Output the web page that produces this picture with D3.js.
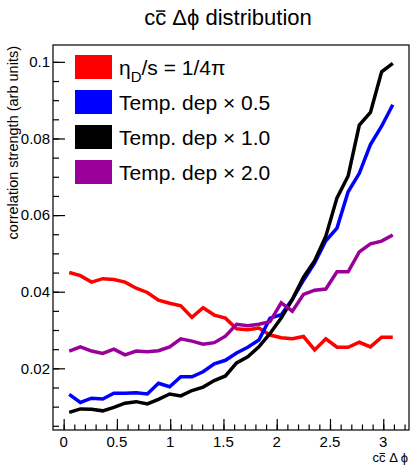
<!DOCTYPE html>
<html>
<head>
<meta charset="utf-8">
<script src="https://cdn.jsdelivr.net/npm/d3@7/dist/d3.min.js"></script>
<style>
  html, body { margin: 0; padding: 0; background: #fff; }
  svg text { font-family: "Liberation Sans", Arial, Helvetica, sans-serif; fill: #000; }
</style>
</head>
<body>
<svg id="chart" width="410" height="466"></svg>
<script>
// Bin centres: 30 bins over [0, pi]
const nBins = 30;
const binCentres = d3.range(nBins).map(i => (i + 0.5) * Math.PI / nBins);

// Correlation strength per bin for each drag-coefficient setting
const constEta = [0.0450, 0.0442, 0.0425, 0.0434, 0.0432, 0.0425, 0.0409, 0.0398, 0.0378, 0.0370,
                  0.0363, 0.0333, 0.0358, 0.0339, 0.0331, 0.0303, 0.0301, 0.0305, 0.0287, 0.0280,
                  0.0277, 0.0283, 0.0248, 0.0277, 0.0255, 0.0255, 0.0268, 0.0256, 0.0281, 0.0281];
const tempDep05 = [0.0132, 0.0111, 0.0122, 0.0120, 0.0135, 0.0135, 0.0136, 0.0133, 0.0161, 0.0152,
                   0.0178, 0.0178, 0.0191, 0.0212, 0.0221, 0.0240, 0.0255, 0.0274, 0.0331, 0.0340,
                   0.0380, 0.0430, 0.0475, 0.0533, 0.0566, 0.0661, 0.0709, 0.0784, 0.0832, 0.0888];
const tempDep10 = [0.0085, 0.0094, 0.0093, 0.0089, 0.0098, 0.0109, 0.0113, 0.0107, 0.0119, 0.0133,
                   0.0128, 0.0142, 0.0151, 0.0168, 0.0180, 0.0214, 0.0230, 0.0256, 0.0291, 0.0331,
                   0.0380, 0.0438, 0.0481, 0.0545, 0.0645, 0.0702, 0.0835, 0.0868, 0.0974, 0.0996];
const tempDep20 = [0.0245, 0.0256, 0.0245, 0.0239, 0.0250, 0.0235, 0.0245, 0.0243, 0.0246, 0.0256,
                   0.0277, 0.0271, 0.0263, 0.0267, 0.0284, 0.0315, 0.0311, 0.0315, 0.0322, 0.0371,
                   0.0349, 0.0393, 0.0404, 0.0407, 0.0452, 0.0452, 0.0504, 0.0525, 0.0532, 0.0548];

const seriesColors = ["#ff0000", "#0000ff", "#000000", "#990099"];
const seriesValues = [constEta, tempDep05, tempDep10, tempDep20];

const xTickLabels = [0, 0.5, 1, 1.5, 2, 2.5, 3];
const yTickLabels = [0.02, 0.04, 0.06, 0.08, 0.1];

// Frame geometry
const frame = { left: 53, right: 409, top: 45, bottom: 430 };

const svg = d3.select("#chart");

const x = d3.scaleLinear().domain([-0.1, Math.PI + 0.1]).range([frame.left, frame.right]);
const y = d3.scaleLinear().domain([0.0039, 0.1044]).range([frame.bottom, frame.top]);

// Frame box
svg.append("rect")
  .attr("x", frame.left).attr("y", frame.top)
  .attr("width", frame.right - frame.left).attr("height", frame.bottom - frame.top)
  .attr("fill", "none").attr("stroke", "#000").attr("stroke-width", 1.2);

// X axis: major ticks every 0.5, minor every 0.1, drawn inward
const xMinor = d3.range(0, 33).map(i => i / 10).filter(v => v <= x.domain()[1]);
svg.append("g")
  .attr("transform", `translate(0,${frame.bottom})`)
  .call(d3.axisTop(x).tickValues(xMinor).tickSize(5.5).tickFormat(""))
  .call(g => g.select(".domain").remove())
  .call(g => g.selectAll("line").attr("stroke-width", 1.2));
svg.append("g")
  .attr("transform", `translate(0,${frame.bottom})`)
  .call(d3.axisTop(x).tickValues(xTickLabels).tickSize(11).tickFormat(""))
  .call(g => g.select(".domain").remove())
  .call(g => g.selectAll("line").attr("stroke-width", 1.2));
svg.append("g").selectAll("text")
  .data(xTickLabels).join("text")
  .attr("x", d => x(d)).attr("y", 447)
  .attr("text-anchor", "middle").attr("font-size", 15)
  .text(d => d3.format("~g")(d));

// Y axis: major ticks every 0.02, minor every 0.005, drawn inward
const yMinor = d3.range(1, 21).map(i => i * 0.005);
svg.append("g")
  .attr("transform", `translate(${frame.left},0)`)
  .call(d3.axisRight(y).tickValues(yMinor).tickSize(6).tickFormat(""))
  .call(g => g.select(".domain").remove())
  .call(g => g.selectAll("line").attr("stroke-width", 1.2));
svg.append("g")
  .attr("transform", `translate(${frame.left},0)`)
  .call(d3.axisRight(y).tickValues(yTickLabels).tickSize(12).tickFormat(""))
  .call(g => g.select(".domain").remove())
  .call(g => g.selectAll("line").attr("stroke-width", 1.2));
svg.append("g").selectAll("text")
  .data(yTickLabels).join("text")
  .attr("x", 50).attr("y", d => y(d) + 5.4)
  .attr("text-anchor", "end").attr("font-size", 15)
  .text(d => d3.format("~g")(d));

// Curves
const line = d3.line()
  .x((d, i) => x(binCentres[i]))
  .y(d => y(d));
svg.append("g").selectAll("path")
  .data(seriesValues).join("path")
  .attr("d", d => line(d))
  .attr("fill", "none")
  .attr("stroke", (d, i) => seriesColors[i])
  .attr("stroke-width", 3.5)
  .attr("stroke-linejoin", "miter");

// Puts a bar over the character at index idx of a text element (for c-bar)
function barOver(textSel, idx, size, lift) {
  const node = textSel.node();
  const box = node.getExtentOfChar(idx);
  const baseline = +textSel.attr("y");
  const yBar = baseline - 0.52 * size - lift;
  svg.append("line")
    .attr("x1", box.x + 0.08 * box.width).attr("x2", box.x + 0.92 * box.width)
    .attr("y1", yBar).attr("y2", yBar)
    .attr("stroke", "#000").attr("stroke-width", size > 16 ? 1.5 : 1);
}

// Title
const title = svg.append("text")
  .attr("x", 228).attr("y", 25)
  .attr("text-anchor", "middle").attr("font-size", 22)
  .text("cc Δϕ distribution");
barOver(title, 1, 22, 2.5);

// Axis titles
const xt = svg.append("text")
  .attr("x", 408).attr("y", 462)
  .attr("text-anchor", "end").attr("font-size", 13)
  .text("cc Δ ϕ");
barOver(xt, 1, 13, 1.8);

svg.append("text")
  .attr("transform", "translate(18,46) rotate(-90)")
  .attr("text-anchor", "end").attr("font-size", 14.5)
  .text("correlation strength (arb units)");

// Legend
const legendRows = [
  [["η", 0], ["D", 1], ["/s = 1/4π", 0]],
  [["Temp. dep × 0.5", 0]],
  [["Temp. dep × 1.0", 0]],
  [["Temp. dep × 2.0", 0]]
];
const legend = svg.append("g");
legendRows.forEach((parts, i) => {
  const top = 55 + i * 35;
  legend.append("rect")
    .attr("x", 75).attr("y", top)
    .attr("width", 37).attr("height", 24)
    .attr("fill", seriesColors[i]);
  const t = legend.append("text")
    .attr("x", 119).attr("y", top + 20)
    .attr("font-size", 21);
  parts.forEach(([s, sub], k) => {
    const ts = t.append("tspan").text(s);
    if (sub) ts.attr("dy", 7).attr("font-size", 15);
    else if (k > 0 && parts[k - 1][1]) ts.attr("dy", -7);
  });
});
</script>
</body>
</html>
